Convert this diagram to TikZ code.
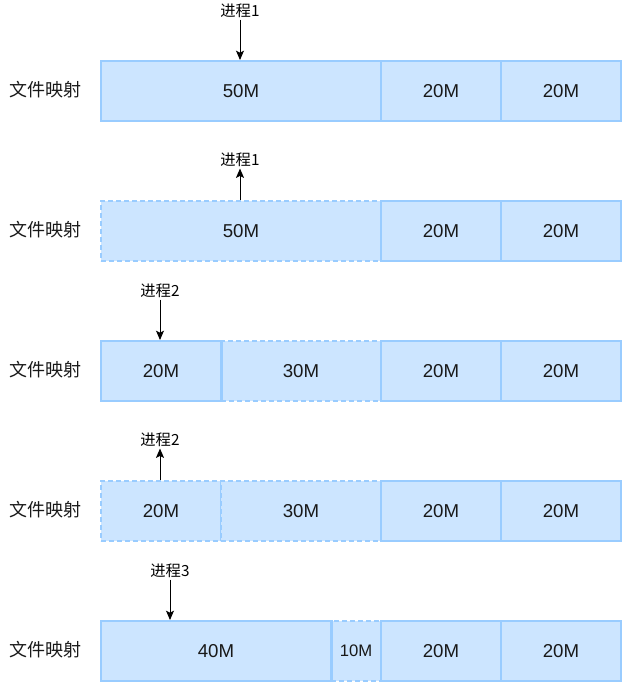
\documentclass[tikz,border=0pt]{standalone}
\usepackage{fontspec}
\usetikzlibrary{arrows.meta}
\setmainfont{Liberation Sans}
\newfontfamily\cjk{Noto Sans CJK SC}
\definecolor{boxfill}{HTML}{CCE5FF}
\definecolor{boxline}{HTML}{99CCFF}
\begin{document}
\begin{tikzpicture}[x=0.75pt,y=-0.75pt,
  seg/.style={draw=boxline,fill=boxfill,line width=1.5pt,inner sep=0pt,font=\fontsize{14pt}{16pt}\selectfont,text=black!90},
  freeseg/.style={seg,dash pattern=on 3.75pt off 2.25pt},
  rowlabel/.style={font=\cjk\fontsize{13.5pt}{16pt}\selectfont,text=black!90},
  proc/.style={font=\cjk\fontsize{11.5pt}{13pt}\selectfont,inner sep=1pt},
  arr/.style={-{Stealth[length=7pt,width=6pt,inset=1.5pt]},line width=0.75pt,black}]
\useasboundingbox (0,0) rectangle (622,682);
\newcommand{\segbox}[6]{% name, style, x1, x2, y, text
  \node[#2,minimum width=#4*0.75pt-#3*0.75pt,minimum height=45pt,anchor=north west] (#1) at (#3,#5) {#6};}
% Row 1
\node[rowlabel] (l1) at (45,90) {文件映射};
\segbox{a1}{seg}{100}{380}{60}{50M}
\segbox{a2}{seg}{380}{500}{60}{20M}
\segbox{a3}{seg}{500}{620}{60}{20M}
\node[proc] (p1) at (240,11) {进程1};
\coordinate (t1) at (240,60);
\draw[arr] (p1) -- (t1);
% Row 2
\node[rowlabel] (l2) at (45,230) {文件映射};
\segbox{b1}{freeseg}{100}{380}{200}{50M}
\segbox{b2}{seg}{380}{500}{200}{20M}
\segbox{b3}{seg}{500}{620}{200}{20M}
\node[proc] (p2) at (240,160) {进程1};
\coordinate (t2) at (240,200);
\draw[arr] (t2) -- (p2);
% Row 3
\node[rowlabel] (l3) at (45,370) {文件映射};
\segbox{c1}{seg}{100}{220}{340}{20M}
\segbox{c2}{freeseg}{220}{380}{340}{30M}
\segbox{c3}{seg}{380}{500}{340}{20M}
\segbox{c4}{seg}{500}{620}{340}{20M}
\draw[draw=boxline,line width=1.5pt] (c1.north east) -- (c1.south east);
\node[proc] (p3) at (160,291) {进程2};
\coordinate (t3) at (160,340);
\draw[arr] (p3) -- (t3);
% Row 4
\node[rowlabel] (l4) at (45,510) {文件映射};
\segbox{d1}{freeseg}{100}{220}{480}{20M}
\segbox{d2}{freeseg}{220}{380}{480}{30M}
\segbox{d3}{seg}{380}{500}{480}{20M}
\segbox{d4}{seg}{500}{620}{480}{20M}
\node[proc] (p4) at (160,440) {进程2};
\coordinate (t4) at (160,480);
\draw[arr] (t4) -- (p4);
% Row 5
\node[rowlabel] (l5) at (45,650) {文件映射};
\segbox{e1}{seg}{100}{330}{620}{40M}
\segbox{e2}{freeseg}{330}{380}{620}{\fontsize{12.5pt}{14pt}\selectfont 10M}
\segbox{e3}{seg}{380}{500}{620}{20M}
\segbox{e4}{seg}{500}{620}{620}{20M}
\draw[draw=boxline,line width=1.5pt] (e1.north east) -- (e1.south east);
\node[proc] (p5) at (170,571) {进程3};
\coordinate (t5) at (170,620);
\draw[arr] (p5) -- (t5);
\end{tikzpicture}
\end{document}
